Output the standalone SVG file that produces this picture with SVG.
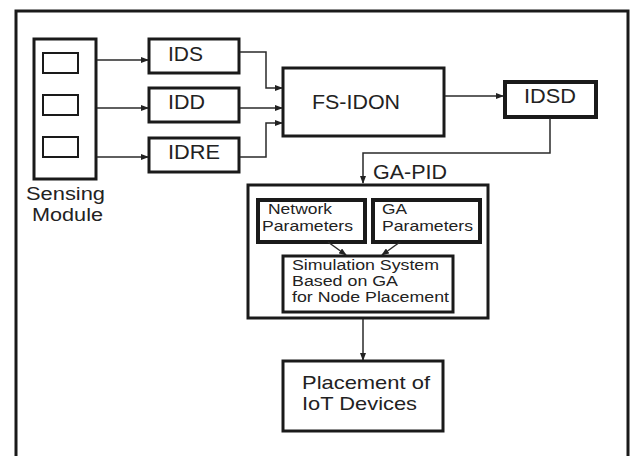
<svg xmlns="http://www.w3.org/2000/svg" width="636" height="456" viewBox="0 0 636 456">
<defs>
<marker id="ah" markerWidth="8" markerHeight="6" refX="7" refY="3" orient="auto" markerUnits="userSpaceOnUse">
<path d="M0,0 L8,3 L0,6 z" fill="#222"/>
</marker>
<style>
.box{fill:#fff;stroke:#1a1a1a;stroke-width:3}
.thin{fill:#fff;stroke:#1a1a1a;stroke-width:2}
.thick{fill:#fff;stroke:#1a1a1a;stroke-width:4}
.c{fill:none;stroke:#2a2a2a;stroke-width:1.5;marker-end:url(#ah)}
text{font-family:"Liberation Sans",Arial,sans-serif;fill:#222}
.t21{font-size:21px}
.t20{font-size:20px}
.t19{font-size:19px}
.t18{font-size:18px}
.t14{font-size:14.5px}
.t15{font-size:15.5px}
</style>
</defs>
<rect width="636" height="456" fill="#fff"/>
<path d="M16,460 L16,11 L628,11 L628,460" fill="none" stroke="#1a1a1a" stroke-width="3"/>

<g id="sensing">
<rect class="box" x="34" y="39" width="62" height="140"/>
<rect class="thin" x="43" y="53" width="35" height="20"/>
<rect class="thin" x="43" y="95" width="35" height="20"/>
<rect class="thin" x="43" y="137" width="35" height="20"/>
<text class="t18" x="26" y="200" textLength="79" lengthAdjust="spacingAndGlyphs">Sensing</text>
<text class="t18" x="32" y="221" textLength="71" lengthAdjust="spacingAndGlyphs">Module</text>
</g>
<g id="ids">
<rect class="box" x="149" y="39" width="90" height="34"/>
<text class="t20" x="168" y="61" textLength="35" lengthAdjust="spacingAndGlyphs">IDS</text>
</g>
<g id="idd">
<rect class="box" x="149" y="88" width="90" height="34"/>
<text class="t20" x="168" y="109" textLength="37" lengthAdjust="spacingAndGlyphs">IDD</text>
</g>
<g id="idre">
<rect class="box" x="149" y="138" width="90" height="34"/>
<text class="t20" x="168" y="159" textLength="52" lengthAdjust="spacingAndGlyphs">IDRE</text>
</g>
<g id="fsidon">
<rect class="box" x="283" y="68" width="161" height="68"/>
<text class="t21" x="312" y="109" textLength="88" lengthAdjust="spacingAndGlyphs">FS-IDON</text>
</g>
<g id="idsd">
<rect class="thick" x="505" y="82" width="91" height="35"/>
<text class="t20" x="524" y="103" textLength="52" lengthAdjust="spacingAndGlyphs">IDSD</text>
</g>
<g id="gapid">
<rect class="box" x="248" y="185" width="240" height="133"/>
<text class="t20" x="373" y="179" textLength="74" lengthAdjust="spacingAndGlyphs">GA-PID</text>
</g>
<g id="netparams">
<rect class="thick" x="258" y="200" width="107" height="42"/>
<text class="t14" x="268" y="214" textLength="64" lengthAdjust="spacingAndGlyphs">Network</text>
<text class="t14" x="262" y="231" textLength="91" lengthAdjust="spacingAndGlyphs">Parameters</text>
</g>
<g id="gaparams">
<rect class="thick" x="373" y="200" width="107" height="42"/>
<text class="t14" x="382" y="214" textLength="25" lengthAdjust="spacingAndGlyphs">GA</text>
<text class="t14" x="382" y="231" textLength="91" lengthAdjust="spacingAndGlyphs">Parameters</text>
</g>
<g id="simulation">
<rect class="box" x="283" y="256" width="170" height="56"/>
<text class="t15" x="292" y="270" textLength="147" lengthAdjust="spacingAndGlyphs">Simulation System</text>
<text class="t15" x="292" y="286" textLength="106" lengthAdjust="spacingAndGlyphs">Based on GA</text>
<text class="t15" x="292" y="302" textLength="157" lengthAdjust="spacingAndGlyphs">for Node Placement</text>
</g>
<g id="placement">
<rect class="box" x="283" y="361" width="160" height="70"/>
<text class="t19" x="302" y="389" textLength="128" lengthAdjust="spacingAndGlyphs">Placement of</text>
<text class="t19" x="302" y="410" textLength="115" lengthAdjust="spacingAndGlyphs">IoT Devices</text>
</g>

<g id="connectors">
<path class="c" d="M97,60 L148,60"/>
<path class="c" d="M97,108 L148,108"/>
<path class="c" d="M97,157 L148,157"/>
<path class="c" d="M240,52 L266,52 L266,88 L282,88"/>
<path class="c" d="M240,108 L282,108"/>
<path class="c" d="M240,157 L266,157 L266,123 L282,123"/>
<path class="c" d="M445,96 L503,96"/>
<path class="c" d="M550,118 L550,153 L363,153 L363,183"/>
<path class="c" d="M328,242 L346,255"/>
<path class="c" d="M400,242 L382,255"/>
<path class="c" d="M363,319 L363,360"/>
</g>
</svg>
